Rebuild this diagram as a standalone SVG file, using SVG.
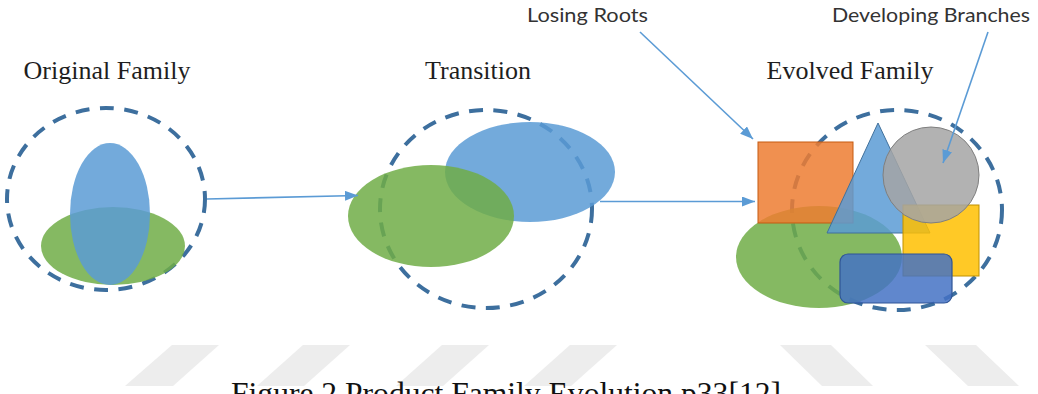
<svg xmlns="http://www.w3.org/2000/svg" width="1038" height="394" viewBox="0 0 1038 394">
  <defs>
    <style>
      .title { font-family: "Liberation Serif", "Times New Roman", serif; font-size: 26px; fill: #1e1e1e; text-anchor: middle; }
      .label { font-family: Lato, "Liberation Sans", Arial, sans-serif; font-size: 19px; fill: #333333; }
      .caption { font-family: "Liberation Serif", "Times New Roman", serif; font-size: 31.5px; fill: #111111; }
      .boundary { fill: none; stroke: #3d6f9e; stroke-width: 4; stroke-dasharray: 14 10.5; }
      .blue { fill: #5b9bd5; fill-opacity: 0.85; }
      .green { fill: #70ad47; fill-opacity: 0.85; }
      .link { fill: none; stroke: #5b9bd5; stroke-width: 1.6; marker-end: url(#arrow); }
      .stripe { fill: #ededed; }
    </style>
    <marker id="arrow" markerUnits="userSpaceOnUse" markerWidth="13" markerHeight="10" refX="13" refY="5" orient="auto">
      <path d="M0,0 L13,5 L0,10 z" fill="#5b9bd5"/>
    </marker>
  </defs>

  <rect width="1038" height="394" fill="#ffffff"/>

  <!-- faint background stripes -->
  <g id="stripes">
    <polygon class="stripe" points="172,345 219,345 173,386 125,386"/>
    <polygon class="stripe" points="303,345 350,345 304,386 257,386"/>
    <polygon class="stripe" points="442,345 489,345 443,386 396,386"/>
    <polygon class="stripe" points="570,345 617,345 571,386 524,386"/>
    <polygon class="stripe" points="780,345 831,345 873,386 822,386"/>
    <polygon class="stripe" points="925,345 976,345 1019,386 968,386"/>
  </g>

  <!-- stage 1: original family -->
  <g id="original-family">
    <text class="title" x="107" y="79">Original Family</text>
    <ellipse class="boundary" cx="106" cy="199" rx="99" ry="91"/>
    <ellipse class="green" cx="113" cy="246" rx="72" ry="39"/>
    <ellipse class="blue" cx="110" cy="214" rx="40" ry="71"/>
  </g>

  <!-- stage 2: transition -->
  <g id="transition">
    <text class="title" x="478" y="79">Transition</text>
    <ellipse class="boundary" cx="486" cy="209" rx="106" ry="99"/>
    <ellipse class="blue" cx="530" cy="172" rx="85" ry="50"/>
    <ellipse class="green" cx="431" cy="216" rx="83" ry="51"/>
  </g>

  <!-- stage 3: evolved family -->
  <g id="evolved-family">
    <text class="title" x="850" y="79">Evolved Family</text>
    <ellipse class="boundary" cx="897" cy="210" rx="105" ry="100"/>
    <ellipse class="green" cx="819" cy="257" rx="83" ry="51"/>
    <rect x="758" y="142" width="95" height="81" fill="#ed7d31" fill-opacity="0.85" stroke="#c55a11" stroke-width="1"/>
    <polygon points="878,123 930,233 827,233" fill="#5b9bd5" fill-opacity="0.85" stroke="#41719c" stroke-width="1"/>
    <rect x="903" y="205" width="76" height="71" fill="#ffc000" fill-opacity="0.85" stroke="#bf9000" stroke-width="1"/>
    <circle cx="931" cy="175" r="48" fill="#a5a5a5" fill-opacity="0.85" stroke="#7f7f7f" stroke-width="1"/>
    <rect x="840" y="254" width="112" height="49" rx="8" fill="#4472c4" fill-opacity="0.85" stroke="#2f5597" stroke-width="1.2"/>
  </g>

  <!-- callout labels -->
  <g id="label-losing-roots">
    <text class="label" x="527" y="22" textLength="121" lengthAdjust="spacingAndGlyphs">Losing Roots</text>
  </g>
  <g id="label-developing-branches">
    <text class="label" x="832" y="22" textLength="198" lengthAdjust="spacingAndGlyphs">Developing Branches</text>
  </g>

  <!-- connectors -->
  <g id="connectors">
    <line class="link" x1="207" y1="199" x2="358" y2="195.5"/>
    <line class="link" x1="600" y1="201.5" x2="755" y2="201.5"/>
    <line class="link" x1="640" y1="32" x2="753" y2="139"/>
    <line class="link" x1="988" y1="32" x2="943" y2="163"/>
  </g>

  <!-- caption, cut by the lower edge -->
  <g id="caption">
    <text class="caption" x="231" y="404" textLength="550" lengthAdjust="spacingAndGlyphs">Figure 2 Product Family Evolution p33[12]</text>
  </g>
</svg>
